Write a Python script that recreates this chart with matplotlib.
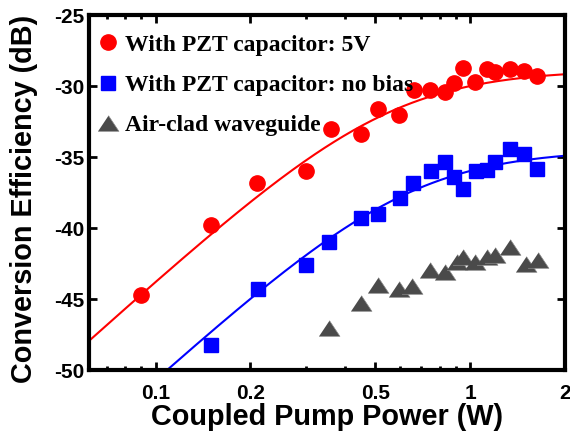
import numpy as np
import matplotlib
matplotlib.use("Agg")
import matplotlib.pyplot as plt
from matplotlib.ticker import FixedLocator, NullFormatter, LogLocator

# Measured conversion efficiency vs coupled pump power
red_power = [0.090, 0.150, 0.210, 0.300, 0.360, 0.450, 0.508, 0.595, 0.662, 0.748,
             0.832, 0.889, 0.952, 1.035, 1.127, 1.197, 1.336, 1.480, 1.630]
red_ce = [-44.7, -39.8, -36.8, -36.0, -33.0, -33.4, -31.6, -32.0, -30.3, -30.3,
          -30.4, -29.8, -28.75, -29.7, -28.8, -29.0, -28.8, -28.9, -29.3]

blue_power = [0.150, 0.211, 0.300, 0.357, 0.450, 0.508, 0.597, 0.660, 0.750, 0.834,
              0.890, 0.952, 1.040, 1.127, 1.197, 1.340, 1.480, 1.630]
blue_ce = [-48.2, -44.3, -42.6, -41.0, -39.3, -39.0, -37.9, -36.8, -36.0, -35.35,
           -36.4, -37.25, -36.0, -35.9, -35.35, -34.4, -34.8, -35.8]

air_power = [0.355, 0.450, 0.508, 0.592, 0.655, 0.745, 0.834, 0.905, 0.952, 1.035,
             1.127, 1.197, 1.336, 1.500, 1.640]
air_ce = [-47.0, -45.3, -44.0, -44.3, -44.1, -42.95, -43.1, -42.4, -42.0, -42.4,
          -42.0, -41.9, -41.3, -42.5, -42.25]

# Saturation-fit parameters (A in dB, Psat in W) as drawn in the figure
red_fit = (-23.65, 0.55)
blue_fit = (-30.6, 0.64)

labels = ["With PZT capacitor: 5V", "With PZT capacitor: no bias", "Air-clad waveguide"]
x_ticks = [0.1, 0.2, 0.5, 1, 2]
x_ticklabels = ["0.1", "0.2", "0.5", "1", "2"]
y_ticks = [-50, -45, -40, -35, -30, -25]


# CE = A + 20log10(P) - 10log10(1 + (P/Psat)^2)
def model(p, a, ps):
    return a + 20 * np.log10(p) - 10 * np.log10(1 + (p / ps) ** 2)


fig = plt.figure(figsize=(5.7, 4.34), dpi=100)
ax = fig.add_axes([0.156, 0.147, 0.835, 0.818])

xmin, xmax = 0.0614, 2.0
xs = np.logspace(np.log10(xmin), np.log10(xmax), 300)

ax.plot(xs, model(xs, *red_fit), color="#ff0000", lw=1.5, zorder=2)
ax.plot(xs, model(xs, *blue_fit), color="#0000ff", lw=1.5, zorder=2)

tri = [(-1, -0.75), (1, -0.75), (0, 0.75)]
h1, = ax.plot(red_power, red_ce, "o", color="#ff0000", ms=11, mec="#ff0000", zorder=3)
h2, = ax.plot(blue_power, blue_ce, "s", color="#0000ff", ms=10, mec="#0000ff", zorder=3)
h3, = ax.plot(air_power, air_ce, ls="none", marker=tri, color="#4a4a4a", ms=15,
              mec="#8a8a8a", mew=0.5, zorder=3)

ax.set_xscale("log")
ax.set_xlim(xmin, xmax)
ax.set_ylim(-50, -25)

ax.xaxis.set_major_locator(FixedLocator(x_ticks))
ax.set_xticklabels(x_ticklabels)
ax.xaxis.set_minor_locator(LogLocator(base=10, subs=np.arange(2, 10), numticks=20))
ax.xaxis.set_minor_formatter(NullFormatter())
ax.set_yticks(y_ticks)
ax.set_yticklabels([str(v) for v in y_ticks])

for lab in ax.get_xticklabels() + ax.get_yticklabels():
    lab.set_fontfamily("Liberation Sans")
    lab.set_fontweight("bold")
    lab.set_fontsize(15)

ax.tick_params(which="both", direction="in", top=True, right=True, width=2)
ax.tick_params(which="major", length=6)
ax.tick_params(which="minor", length=3)
ax.tick_params(axis="x", pad=10)
ax.tick_params(axis="y", pad=3)
for s in ax.spines.values():
    s.set_linewidth(3)

ax.set_xlabel("Coupled Pump Power (W)", fontsize=20.8, fontweight="bold",
              family="Liberation Sans", labelpad=0)
ax.set_ylabel("Conversion Efficiency (dB)", fontsize=20.8, fontweight="bold",
              family="Liberation Sans")
ax.yaxis.set_label_coords(-0.106, 0.482)

ax.legend([h1, h2, h3], labels, loc="upper left", frameon=False,
          bbox_to_anchor=(-0.019, 1.0),
          prop={"family": "Liberation Serif", "weight": "bold", "size": 17},
          handlelength=0.8, handletextpad=0.3, labelspacing=0.8,
          borderaxespad=0.5, borderpad=0.3)

fig.savefig("out.png", dpi=100)
